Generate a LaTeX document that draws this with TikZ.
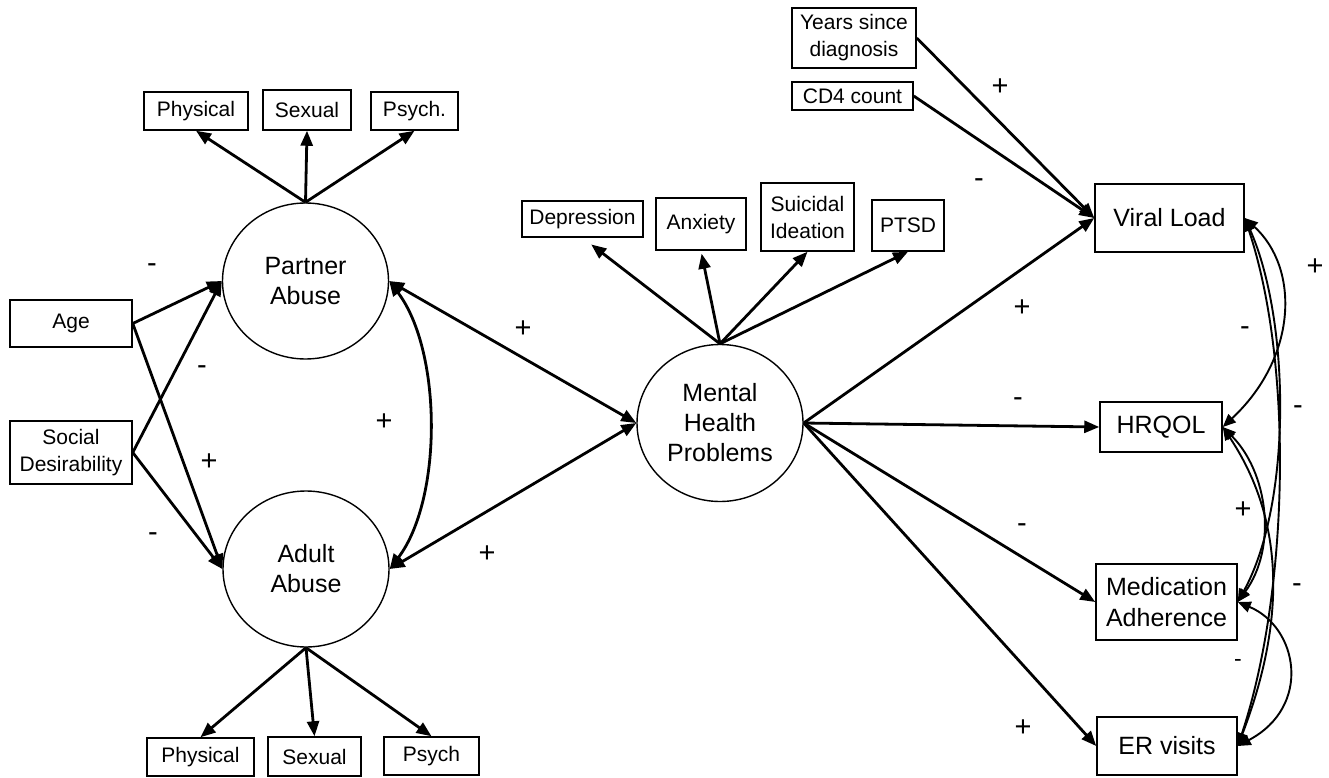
\documentclass[tikz,border=0pt]{standalone}
\usepackage{fontspec}
\setmainfont{Liberation Sans}
\usetikzlibrary{shapes.geometric,arrows.meta,calc}
\tikzset{
  box/.style={draw, line width=1.5pt, inner sep=0pt, align=center, font=\fontsize{21}{27}\selectfont},
  bigbox/.style={draw, line width=1.5pt, inner sep=0pt, align=center, font=\fontsize{25}{30.5}\selectfont},
  latent/.style={draw, ellipse, line width=1.4pt, inner sep=0pt, align=center, font=\fontsize{25}{30}\selectfont},
  arr/.style={line width=2.8pt, -{Triangle[length=15pt,width=12pt]}},
  darr/.style={line width=2.8pt, {Triangle[length=15pt,width=12pt]}-{Triangle[length=15pt,width=12pt]}},
  cov/.style={line width=1.9pt, {Triangle[length=13pt,width=11pt]}-{Triangle[length=13pt,width=11pt]}},
  sign/.style={font=\fontsize{29}{29}\selectfont, inner sep=0pt},
  smallsign/.style={font=\fontsize{23}{23}\selectfont, inner sep=0pt}
}
\begin{document}
\begin{tikzpicture}[x=1pt,y=-1pt]
\useasboundingbox (0,0) rectangle (1329,778);
% latent variables
\node[latent, minimum width=166pt, minimum height=156pt] (pa) at (305.5,281) {Partner\\Abuse};
\node[latent, minimum width=166pt, minimum height=156pt] (aa) at (306,569) {Adult\\Abuse};
\node[latent, minimum width=166pt, minimum height=157pt] (mh) at (720,423) {Mental\\Health\\Problems};
% indicators
\node[box, minimum width=104pt, minimum height=38pt] (pphys) at (196,111) {Physical};
\node[box, minimum width=88pt, minimum height=40pt] (psex) at (307,110) {Sexual};
\node[box, minimum width=87pt, minimum height=38pt] (ppsy) at (414.5,111) {Psych.};
\node[box, minimum width=107pt, minimum height=38pt] (aphys) at (200.5,757) {Physical};
\node[box, minimum width=93pt, minimum height=39pt] (asex) at (314.5,756.5) {Sexual};
\node[box, minimum width=95pt, minimum height=38pt] (apsy) at (431.5,756) {Psych};
\node[box, minimum width=122pt, minimum height=47pt] (age) at (71,323.5) {Age};
\node[box, minimum width=122pt, minimum height=63pt] (soc) at (71,452.5) {Social\\Desirability};
\node[box, minimum width=121pt, minimum height=36pt] (dep) at (582.5,219) {Depression};
\node[box, minimum width=90pt, minimum height=52pt] (anx) at (701,224) {Anxiety};
\node[box, minimum width=93pt, minimum height=68pt] (sui) at (807.5,217) {Suicidal\\Ideation};
\node[box, minimum width=72pt, minimum height=51pt] (ptsd) at (908,225.5) {PTSD};
\node[box, minimum width=124pt, minimum height=60pt] (yrs) at (854,38) {Years since\\diagnosis};
\node[box, minimum width=121pt, minimum height=28pt] (cd4) at (852.5,96) {CD4 count};
% outcomes
\node[bigbox, minimum width=149pt, minimum height=68pt] (vl) at (1169.5,218) {Viral Load};
\node[bigbox, minimum width=122pt, minimum height=50pt] (hr) at (1161,427) {HRQOL};
\node[bigbox, minimum width=141pt, minimum height=76pt] (med) at (1166.5,602) {Medication\\Adherence};
\node[bigbox, minimum width=140pt, minimum height=58pt] (er) at (1167,746) {ER visits};
% measurement arrows
\draw[arr] (pa.north) -- (pphys.south);
\draw[arr] (pa.north) -- (psex.south);
\draw[arr] (pa.north) -- (ppsy.south);
\draw[arr] (aa.south) -- (aphys.north);
\draw[arr] (aa.south) -- (asex.north);
\draw[arr] (aa.south) -- (apsy.north);
\draw[arr, shorten >=11pt] (mh.north) -- (dep.south);
\draw[arr, shorten >=3pt] (mh.north) -- (anx.south);
\draw[arr] (mh.north) -- (sui.south);
\draw[arr] (mh.north) -- (ptsd.south);
% predictors
\draw[arr] (age.east) -- (pa.west);
\draw[arr] (age.east) -- (aa.west);
\draw[arr] (soc.east) -- (pa.west);
\draw[arr] (soc.east) -- (aa.west);
\draw[darr] (pa.east) .. controls +(53,70) and +(53,-70) .. (aa.east);
\draw[darr] (pa.east) -- (mh.west);
\draw[darr] (aa.east) -- (mh.west);
% structural paths
\draw[arr] (mh.east) -- (vl.west);
\draw[arr] (mh.east) -- (hr.west);
\draw[arr] (mh.east) -- (med.west);
\draw[arr] (mh.east) -- (er.west);
\draw[arr] (yrs.east) -- (vl.west);
\draw[arr] (cd4.east) -- (vl.west);
% covariances among outcomes
\draw[cov] (vl.east) .. controls +(55,50) and +(75,-70) .. (hr.east);
\draw[cov] (vl.east) .. controls +(45,100) and +(55,-100) .. (med.east);
\draw[cov] (vl.east) .. controls +(50,150) and +(50,-150) .. (er.east);
\draw[cov] (hr.east) .. controls +(45,45) and +(40,-55) .. (med.east);
\draw[cov] (hr.east) .. controls +(60,90) and +(50,-130) .. (er.east);
\draw[cov] (med.east) .. controls +(60,25) and +(75,-40) .. (er.east);
% signs
\node[sign] (s1) at (1000,87) {+};
\node[sign] (s2) at (979,183) {-};
\node[sign] (s3) at (152,268) {-};
\node[sign] (s4) at (202,370) {-};
\node[sign] (s5) at (209,462) {+};
\node[sign] (s6) at (153,537) {-};
\node[sign] (s7) at (384,422) {+};
\node[sign] (s8) at (523,329) {+};
\node[sign] (s9) at (487,554) {+};
\node[sign] (s10) at (1022,308) {+};
\node[sign] (s11) at (1018,402) {-};
\node[sign] (s12) at (1022,528) {-};
\node[sign] (s13) at (1023,728) {+};
\node[sign] (s14) at (1315,267) {+};
\node[sign] (s15) at (1245,331) {-};
\node[sign] (s16) at (1298,410) {-};
\node[sign] (s17) at (1243,510) {+};
\node[sign] (s18) at (1297,588) {-};
\node[smallsign] (s19) at (1238,663) {-};
\end{tikzpicture}
\end{document}
